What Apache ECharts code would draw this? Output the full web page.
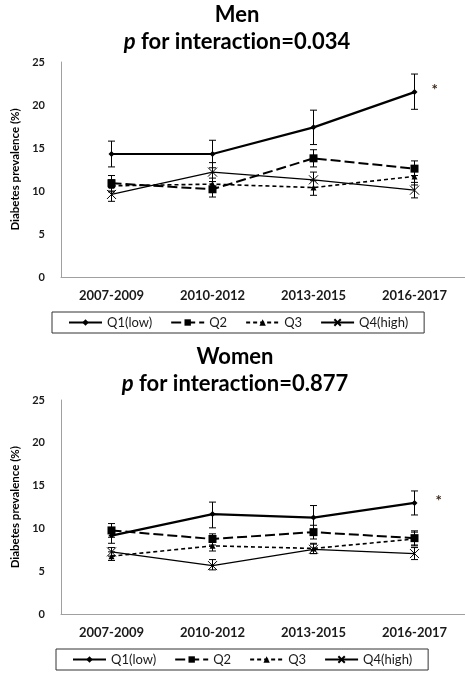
<!DOCTYPE html>
<html>
<head>
<meta charset="utf-8">
<script src="https://cdn.jsdelivr.net/npm/echarts@6/dist/echarts.min.js"></script>
<style>
  html, body { margin: 0; padding: 0; background: #fff; }
  #chart { width: 465px; height: 675px; }
</style>
</head>
<body>
<div id="chart"></div>
<script>
// Diabetes prevalence (%) by survey period and quartile, men and women panels
const periods = ['2007-2009', '2010-2012', '2013-2015', '2016-2017'];
const seriesNames = ['Q1(low)', 'Q2', 'Q3', 'Q4(high)'];
const yTicks = [0, 5, 10, 15, 20, 25];

// Men
const menQ1 = [14.3, 14.3, 17.4, 21.5];
const menQ1Lo = [12.8, 12.7, 15.4, 19.5];
const menQ1Hi = [15.8, 15.9, 19.4, 23.6];
const menQ2 = [10.9, 10.2, 13.8, 12.6];
const menQ2Lo = [10.0, 9.3, 12.8, 11.8];
const menQ2Hi = [11.8, 11.1, 14.8, 13.5];
const menQ3 = [10.6, 10.8, 10.4, 11.7];
const menQ3Lo = [9.9, 10.1, 9.5, 10.7];
const menQ3Hi = [11.3, 11.5, 11.2, 12.7];
const menQ4 = [9.6, 12.2, 11.3, 10.1];
const menQ4Lo = [8.8, 11.1, 10.4, 9.2];
const menQ4Hi = [10.4, 13.3, 12.2, 11.0];

// Women
const womenQ1 = [9.2, 11.7, 11.3, 13.0];
const womenQ1Lo = [8.3, 10.1, 9.9, 11.6];
const womenQ1Hi = [10.1, 13.1, 12.7, 14.4];
const womenQ2 = [9.8, 8.8, 9.6, 8.9];
const womenQ2Lo = [9.0, 8.1, 8.8, 8.1];
const womenQ2Hi = [10.6, 9.4, 10.4, 9.75];
const womenQ3 = [6.8, 8.0, 7.7, 8.8];
const womenQ3Lo = [6.3, 7.4, 7.1, 8.0];
const womenQ3Hi = [7.3, 8.6, 8.3, 9.6];
const womenQ4 = [7.3, 5.7, 7.6, 7.1];
const womenQ4Lo = [6.8, 5.2, 7.1, 6.4];
const womenQ4Hi = [7.8, 6.4, 8.2, 7.8];

const menTitle = 'Men';
const womenTitle = 'Women';
const menP = '0.034';
const womenP = '0.877';
const sigMark = '*';

const FONT = 'Lato, "Open Sans", sans-serif';

// Line and marker look per quartile
const looks = [
  { symbol: 'diamond', size: 6, width: 2.2, type: 'solid', itemStyle: { color: '#000' } },
  { symbol: 'rect', size: 8, width: 2, type: [10, 4], itemStyle: { color: '#000' } },
  { symbol: 'triangle', size: 6, width: 1.6, type: [4, 3], itemStyle: { color: '#000' } },
  { symbol: 'path://M0,0L10,10M10,0L0,10', size: 9, width: 1.3, type: 'solid',
    itemStyle: { color: 'none', borderColor: '#000', borderWidth: 1 } }
];

function lineSeries(gridIdx, idx, values, markLast) {
  const lk = looks[idx];
  return {
    type: 'line',
    name: seriesNames[idx],
    xAxisIndex: gridIdx,
    yAxisIndex: gridIdx,
    z: 3,
    symbol: lk.symbol,
    symbolSize: lk.size,
    showAllSymbol: true,
    lineStyle: { color: '#000', width: lk.width, type: lk.type },
    itemStyle: lk.itemStyle,
    emphasis: { disabled: true },
    data: values.map((v, i) => (markLast && i === values.length - 1) ? {
      value: v,
      label: {
        show: true, formatter: sigMark, position: 'right',
        offset: markLast, color: '#3d2816', fontSize: 15, fontWeight: 'bold',
        fontFamily: FONT
      }
    } : v)
  };
}

function errorBars(gridIdx, lo, hi) {
  return {
    type: 'custom',
    xAxisIndex: gridIdx,
    yAxisIndex: gridIdx,
    silent: true,
    z: 2,
    data: lo.map((l, i) => [i, l, hi[i]]),
    encode: { x: 0, y: [1, 2] },
    renderItem(params, api) {
      const x = api.value(0);
      const a = api.coord([x, api.value(1)]);
      const b = api.coord([x, api.value(2)]);
      const w = 3.5;
      const st = { stroke: '#000', lineWidth: 1 };
      return {
        type: 'group',
        children: [
          { type: 'line', shape: { x1: a[0], y1: a[1], x2: b[0], y2: b[1] }, style: st },
          { type: 'line', shape: { x1: a[0] - w, y1: a[1], x2: a[0] + w, y2: a[1] }, style: st },
          { type: 'line', shape: { x1: b[0] - w, y1: b[1], x2: b[0] + w, y2: b[1] }, style: st }
        ]
      };
    }
  };
}

function xAxis(gridIdx) {
  return {
    type: 'category', gridIndex: gridIdx, data: periods, boundaryGap: true,
    axisLine: { lineStyle: { color: '#a0a0a0', width: 1 } },
    axisTick: { show: false },
    axisLabel: { color: '#1a1a1a', fontSize: 13, fontWeight: 'bold', fontFamily: FONT, margin: 12 }
  };
}

function yAxis(gridIdx) {
  return {
    type: 'value', gridIndex: gridIdx,
    min: yTicks[0], max: yTicks[yTicks.length - 1], interval: yTicks[1] - yTicks[0],
    name: 'Diabetes prevalence (%)', nameLocation: 'middle', nameGap: 36, nameRotate: 90,
    nameTextStyle: { color: '#000', fontSize: 11.5, fontWeight: 'bold', fontFamily: FONT },
    axisLine: { show: true, lineStyle: { color: '#a0a0a0', width: 1 } },
    axisTick: { show: false },
    splitLine: { show: false },
    axisLabel: { color: '#1a1a1a', fontSize: 11, fontWeight: 'bold', fontFamily: FONT, margin: 16 }
  };
}

function legend(left, top) {
  return {
    data: seriesNames, left: left, top: top,
    orient: 'horizontal',
    itemWidth: 33, itemHeight: 8, itemGap: 18,
    padding: [4, 16, 4, 16],
    borderColor: '#333', borderWidth: 1, backgroundColor: '#fff',
    selectedMode: false,
    textStyle: { color: '#1a1a1a', fontSize: 13, fontFamily: FONT }
  };
}

// Two-line panel heading; the second line is split into runs so that
// "ti" is drawn as plain letters rather than a ligature.
function titleBlock(x, y, head, p) {
  const base = { fontSize: 22, fontWeight: 'bold', fontFamily: FONT, fill: '#000', lineHeight: 27 };
  return {
    type: 'text', x: x, y: y,
    style: {
      text: '{t|' + head + '}\n{i|p}{t| for interact}{t|ion=' + p + '}',
      align: 'center', verticalAlign: 'top',
      rich: { t: base, i: Object.assign({}, base, { fontStyle: 'italic' }) }
    }
  };
}

const chart = echarts.init(document.getElementById('chart'), null, { renderer: 'canvas' });

const menSets = [[menQ1, menQ1Lo, menQ1Hi], [menQ2, menQ2Lo, menQ2Hi], [menQ3, menQ3Lo, menQ3Hi], [menQ4, menQ4Lo, menQ4Hi]];
const womenSets = [[womenQ1, womenQ1Lo, womenQ1Hi], [womenQ2, womenQ2Lo, womenQ2Hi], [womenQ3, womenQ3Lo, womenQ3Hi], [womenQ4, womenQ4Lo, womenQ4Hi]];

const series = [];
menSets.forEach((s, i) => {
  series.push(errorBars(0, s[1], s[2]));
  series.push(lineSeries(0, i, s[0], i === 0 ? [9, -2] : null));
});
womenSets.forEach((s, i) => {
  series.push(errorBars(1, s[1], s[2]));
  series.push(lineSeries(1, i, s[0], i === 0 ? [13, -2] : null));
});

chart.setOption({
  backgroundColor: '#fff',
  animation: false,
  grid: [
    { left: 61, top: 62, width: 406, height: 215 },
    { left: 61, top: 400, width: 413, height: 214.5 }
  ],
  xAxis: [xAxis(0), xAxis(1)],
  yAxis: [yAxis(0), yAxis(1)],
  legend: [legend(52, 312), legend(56, 649)],
  graphic: [
    titleBlock(237, 1, menTitle, menP),
    titleBlock(235, 343, womenTitle, womenP)
  ],
  series: series
});
</script>
</body>
</html>
